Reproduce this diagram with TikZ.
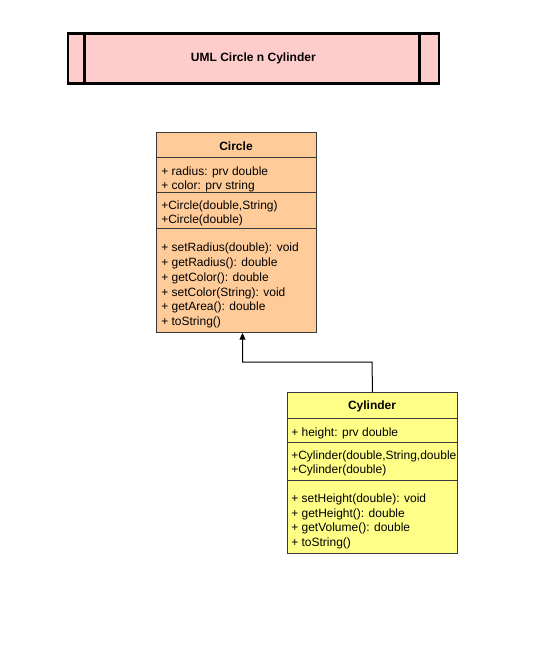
\documentclass[tikz,border=0pt]{standalone}
\usepackage{fontspec}
\setmainfont{Liberation Sans}
\usetikzlibrary{arrows.meta,calc}
\definecolor{titlefill}{HTML}{FFCCCC}
\definecolor{circfill}{HTML}{FFCC99}
\definecolor{cylfill}{HTML}{FFFF88}
\definecolor{umlline}{HTML}{36393D}
\tikzset{
  x=0.75pt, y=-0.75pt,
  classbox/.style={draw=umlline, line width=0.75pt, anchor=north west, inner sep=0pt},
  sepline/.style={draw=umlline, line width=0.75pt},
  member/.style={anchor=west, inner sep=0pt, yshift=-1.2pt, font=\fontsize{9}{11}\selectfont},
  classname/.style={inner sep=0pt, font=\fontsize{9}{11}\selectfont\bfseries},
  titlebox/.style={draw=black, line width=2pt, anchor=north west, inner sep=0pt, fill=titlefill},
  titlebar/.style={draw=black, line width=2pt},
  inherit/.style={draw=black, line width=0.75pt, -{Triangle[length=5pt,width=4.5pt]}}
}
\begin{document}
\begin{tikzpicture}
\useasboundingbox (0,0) rectangle (551,645);
% title
\node[titlebox, minimum width=371*0.75pt, minimum height=50*0.75pt] (title) at (66.5,32) {};
\draw[titlebar] (84.5,32) -- (84.5,82);
\draw[titlebar] (419.5,32) -- (419.5,82);
\node[classname] (titletext) at (title.center) {UML Circle n Cylinder};
% Circle class
\node[classbox, fill=circfill, minimum width=160*0.75pt, minimum height=200*0.75pt] (circ) at (156,132) {};
\node[classname] (circname) at (236,146) {Circle};
\draw[sepline] (156,158) -- (316,158);
\draw[sepline] (156,193) -- (316,193);
\draw[sepline] (156,228) -- (316,228);
\node[member] (c1) at (161,171) {+ radius: prv double};
\node[member] (c2) at (161,185) {+ color: prv string};
\node[member] (c3) at (161,205) {+Circle(double,String)};
\node[member] (c4) at (161,219) {+Circle(double)};
\node[member] (c5) at (161,247) {+ setRadius(double): void};
\node[member] (c6) at (161,262) {+ getRadius(): double};
\node[member] (c7) at (161,277) {+ getColor(): double};
\node[member] (c8) at (161,292) {+ setColor(String): void};
\node[member] (c9) at (161,306) {+ getArea(): double};
\node[member] (c10) at (161,321) {+ toString()};
% Cylinder class
\node[classbox, fill=cylfill, minimum width=170*0.75pt, minimum height=161*0.75pt] (cyl) at (287,392) {};
\node[classname] (cylname) at (372,406) {Cylinder};
\draw[sepline] (287,418) -- (457,418);
\draw[sepline] (287,442) -- (457,442);
\draw[sepline] (287,480) -- (457,480);
\begin{scope}
\clip (287,392) rectangle (455,553);
\node[member] (y1) at (291,432) {+ height: prv double};
\node[member] (y2) at (291,455) {+Cylinder(double,String,double)};
\node[member] (y3) at (291,469) {+Cylinder(double)};
\node[member] (y4) at (291,498) {+ setHeight(double): void};
\node[member] (y5) at (291,513) {+ getHeight(): double};
\node[member] (y6) at (291,527) {+ getVolume(): double};
\node[member] (y7) at (291,542) {+ toString()};
\end{scope}
% inheritance
\coordinate (bend) at (372,362);
\draw[inherit] (cyl.north) -- (bend) -| ($(circ.south)+(6,0)$);
\end{tikzpicture}
\end{document}
